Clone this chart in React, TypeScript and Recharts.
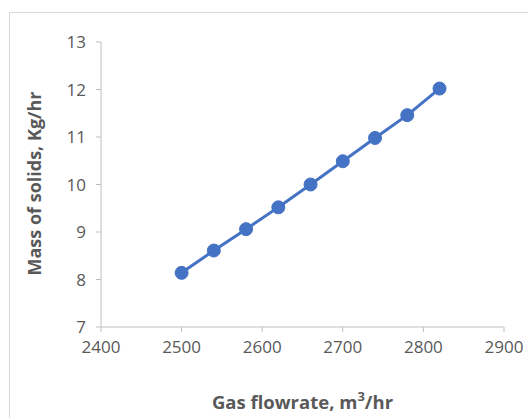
import { LineChart, Line, XAxis, YAxis, Label } from "recharts";

const gasFlow = [2500, 2540, 2580, 2620, 2660, 2700, 2740, 2780, 2820];
const massSolids = [8.14, 8.61, 9.06, 9.52, 10.0, 10.49, 10.98, 11.46, 12.02];
const xTicks = [2400, 2500, 2600, 2700, 2800, 2900];
const yTicks = [7, 8, 9, 10, 11, 12, 13];

const data = gasFlow.map((x, i) => ({ x, y: massSolids[i] }));

const FONT = "'Open Sans', 'Liberation Sans', sans-serif";
const TEXT = "#595959";
const AXIS = "#bfbfbf";

const XTitle = ({ viewBox }: any) => {
  const cx = viewBox.x + viewBox.width / 2;
  return (
    <text
      x={cx}
      y={404}
      textAnchor="middle"
      dominantBaseline="middle"
      fill={TEXT}
      style={{ fontFamily: FONT, fontSize: 18.5, fontWeight: 700 }}
    >
      Gas flowrate, m
      <tspan dy={-6} fontSize={13}>3</tspan>
      <tspan dy={6}>/hr</tspan>
    </text>
  );
};

const YTitle = ({ viewBox }: any) => {
  const cy = viewBox.y + viewBox.height / 2 - 1;
  return (
    <text
      x={36}
      y={cy}
      transform={`rotate(-90 36 ${cy})`}
      textAnchor="middle"
      dominantBaseline="middle"
      fill={TEXT}
      style={{ fontFamily: FONT, fontSize: 18, fontWeight: 700 }}
    >
      Mass of solids, Kg/hr
    </text>
  );
};

export default function App() {
  return (
    <div
      style={{
        position: "absolute",
        left: 0,
        top: 0,
        width: 528,
        height: 418,
        background: "#fff",
        overflow: "hidden",
      }}
    >
      <div
        style={{
          position: "absolute",
          left: 9,
          top: 12,
          width: 540,
          height: 430,
          border: "1px solid #d9d9d9",
        }}
      />
      <LineChart
        width={528}
        height={418}
        data={data}
        margin={{ top: 42, right: 24, bottom: 61, left: 41 }}
        style={{ position: "absolute", left: 0, top: 0 }}
      >
        <XAxis
          dataKey="x"
          type="number"
          domain={[2400, 2900]}
          ticks={xTicks}
          interval={0}
          height={30}
          tickSize={5}
          tickMargin={9}
          axisLine={{ stroke: AXIS }}
          tickLine={{ stroke: AXIS }}
          tick={{ fill: TEXT, fontSize: 17, fontFamily: FONT }}
        >
          <Label content={<XTitle />} />
        </XAxis>
        <YAxis
          dataKey="y"
          type="number"
          domain={[7, 13]}
          ticks={yTicks}
          interval={0}
          width={60}
          tickSize={5}
          tickMargin={10}
          axisLine={{ stroke: AXIS }}
          tickLine={{ stroke: AXIS }}
          tick={{ fill: TEXT, fontSize: 17, fontFamily: FONT }}
        >
          <Label content={<YTitle />} />
        </YAxis>
        <Line
          dataKey="y"
          stroke="#4472c4"
          strokeWidth={3}
          dot={{ r: 6.5, fill: "#4472c4", stroke: "#4472c4", strokeWidth: 1 }}
          activeDot={false}
          isAnimationActive={false}
        />
      </LineChart>
    </div>
  );
}
